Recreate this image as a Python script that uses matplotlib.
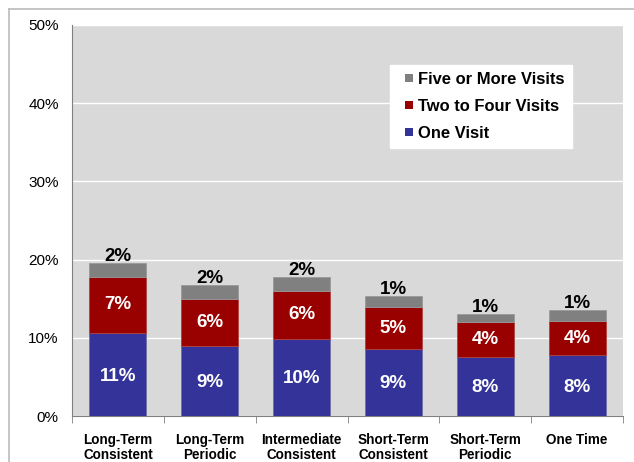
import matplotlib.pyplot as plt
from matplotlib.lines import Line2D
import numpy as np

plt.rcParams['font.family'] = ['Liberation Sans', 'DejaVu Sans']

# Data (percent)
categories = ['Long-Term\nConsistent', 'Long-Term\nPeriodic', 'Intermediate\nConsistent',
              'Short-Term\nConsistent', 'Short-Term\nPeriodic', 'One Time']
one_visit = [10.6, 9.0, 9.9, 8.6, 7.6, 7.8]
two_to_four = [7.2, 5.9, 6.1, 5.3, 4.4, 4.3]
five_plus = [1.8, 1.8, 1.8, 1.4, 1.1, 1.45]
yticks = [0, 10, 20, 30, 40, 50]

blue = '#333399'
red = '#990000'
gray = '#808080'

fig = plt.figure(figsize=(6.34, 4.62), dpi=100)
ax = fig.add_axes([72 / 634, 1 - 416 / 462, 551 / 634, 391 / 462])
ax.set_facecolor('#d9d9d9')

# outer frame (only top and left edges visible in the original)
fx, fy = 8.5 / 634, 1 - 8.5 / 462
fig.add_artist(Line2D([fx, 1], [fy, fy], transform=fig.transFigure, color='#c0c0c0', linewidth=1.3))
fig.add_artist(Line2D([fx, fx], [0, fy], transform=fig.transFigure, color='#c0c0c0', linewidth=1.3))

x = np.arange(len(categories))
w = 0.62
bottom2 = np.array(one_visit)
bottom3 = bottom2 + np.array(two_to_four)
ax.bar(x, one_visit, w, color=blue, edgecolor='#6f6fa8', linewidth=0.6, zorder=3)
ax.bar(x, two_to_four, w, bottom=bottom2, color=red, edgecolor='#b04040', linewidth=0.6, zorder=3)
ax.bar(x, five_plus, w, bottom=bottom3, color=gray, edgecolor='#999999', linewidth=0.6, zorder=3)

for i in range(len(categories)):
    ax.text(x[i], one_visit[i] / 2 - 0.2, f'{one_visit[i]:.0f}%', ha='center', va='center',
            color='white', fontsize=13.5, fontweight='bold', zorder=4)
    ax.text(x[i], bottom2[i] + two_to_four[i] / 2, f'{two_to_four[i]:.0f}%', ha='center',
            va='center', color='white', fontsize=13.5, fontweight='bold', zorder=4)
    ax.text(x[i], bottom3[i] + five_plus[i] - 0.25, f'{five_plus[i]:.0f}%', ha='center',
            va='bottom', color='black', fontsize=13.5, fontweight='bold', zorder=4)

ax.set_ylim(0, 50)
ax.set_xlim(-0.5, len(categories) - 0.5)
ax.set_yticks(yticks)
ax.set_yticklabels([f'{v}%' for v in yticks], fontsize=11)
ax.yaxis.grid(True, color='white', linewidth=1, zorder=0)
ax.set_axisbelow(True)
ax.tick_params(axis='y', length=0, pad=9.5)

ax.set_xticks(x)
ax.set_xticklabels(categories, fontsize=9.75, fontweight='bold', linespacing=1.1)
ax.set_xticks(np.arange(len(categories) + 1) - 0.5, minor=True)
ax.tick_params(axis='x', which='major', length=0, pad=12)
ax.tick_params(axis='x', which='minor', length=5, color='#808080', direction='out')

for s in ['top', 'right']:
    ax.spines[s].set_visible(False)
ax.spines['left'].set_color('#808080')
ax.spines['bottom'].set_color('#808080')

handles = [Line2D([], [], linestyle='none', marker='s', markersize=5.8, color=c, markeredgewidth=0)
           for c in [gray, red, blue]]
labels = ['Five or More Visits', 'Two to Four Visits', 'One Visit']
leg = ax.legend(handles, labels, loc='upper left', bbox_to_anchor=((390 - 72) / 551, (416 - 65) / 391),
                frameon=True, fancybox=False, framealpha=1, edgecolor='white', facecolor='white',
                prop={'weight': 'bold', 'size': 11.9}, handlelength=1.5, handletextpad=-0.2,
                labelspacing=0.72, borderpad=0.42, borderaxespad=0)
leg.set_zorder(5)

fig.savefig('out.png', dpi=100)
